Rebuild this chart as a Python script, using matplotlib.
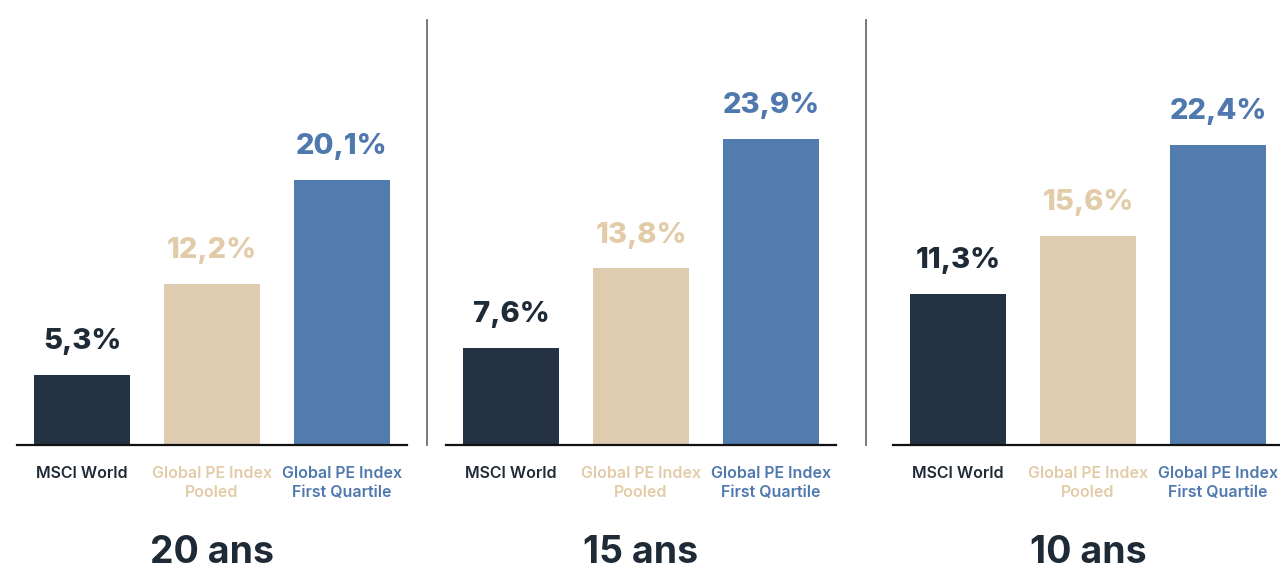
import matplotlib
matplotlib.use("Agg")
import matplotlib.pyplot as plt
from matplotlib.lines import Line2D

periods = ["20 ans", "15 ans", "10 ans"]
categories = ["MSCI World", "Global PE Index\nPooled", "Global PE Index\nFirst Quartile"]
msci_world = [5.3, 7.6, 11.3]
pe_pooled = [12.2, 13.8, 15.6]
pe_first_quartile = [20.1, 23.9, 22.4]
value_labels = [["5,3%", "12,2%", "20,1%"],
                ["7,6%", "13,8%", "23,9%"],
                ["11,3%", "15,6%", "22,4%"]]

bar_colors = ["#243343", "#dfcbb0", "#527bae"]
text_colors = ["#1f2a37", "#e2cba8", "#4f79ae"]
title_color = "#1f2a37"

plt.rcParams["font.family"] = ["Inter", "DejaVu Sans"]

fig = plt.figure(figsize=(12.8, 5.85), dpi=100)
fig.patch.set_facecolor("white")

W, H = 1280, 585
base_y = 445
top_y = 20
panel_left = [17, 446, 893]
panel_w = 390
ymax = [32.2, 33.2, 31.7]

for p in range(3):
    ax = fig.add_axes([panel_left[p] / W, (H - base_y) / H, panel_w / W, (base_y - top_y) / H])
    vals = [msci_world[p], pe_pooled[p], pe_first_quartile[p]]
    ax.bar(range(3), vals, width=0.74, color=bar_colors)
    ax.set_xlim(-0.5, 2.5)
    ax.set_ylim(0, ymax[p])
    for s in ["top", "right", "left"]:
        ax.spines[s].set_visible(False)
    ax.spines["bottom"].set_linewidth(1.6)
    ax.spines["bottom"].set_color("#111111")
    ax.set_yticks([])
    ax.set_xticks(range(3))
    ax.set_xticklabels(categories, fontsize=11.5, fontweight="semibold", linespacing=1.35)
    ax.tick_params(axis="x", length=0, pad=15)
    for lbl, c in zip(ax.get_xticklabels(), text_colors):
        lbl.set_color(c)
    for i, v in enumerate(vals):
        ax.annotate(value_labels[p][i], (i, v), xytext=(0, 24), textcoords="offset points",
                    ha="center", va="center", fontsize=21, fontweight="heavy", color=text_colors[i])
    ax.text(0.5, -0.254, periods[p], transform=ax.transAxes, ha="center", va="center",
            fontsize=27, fontweight="bold", color=title_color)

# vertical separators between panels
for x in [427, 866]:
    fig.add_artist(Line2D([x / W, x / W], [(H - base_y) / H, (H - top_y) / H],
                          color="#6e6e6e", linewidth=1.3, transform=fig.transFigure))

fig.savefig("out.png", dpi=100, facecolor="white")
